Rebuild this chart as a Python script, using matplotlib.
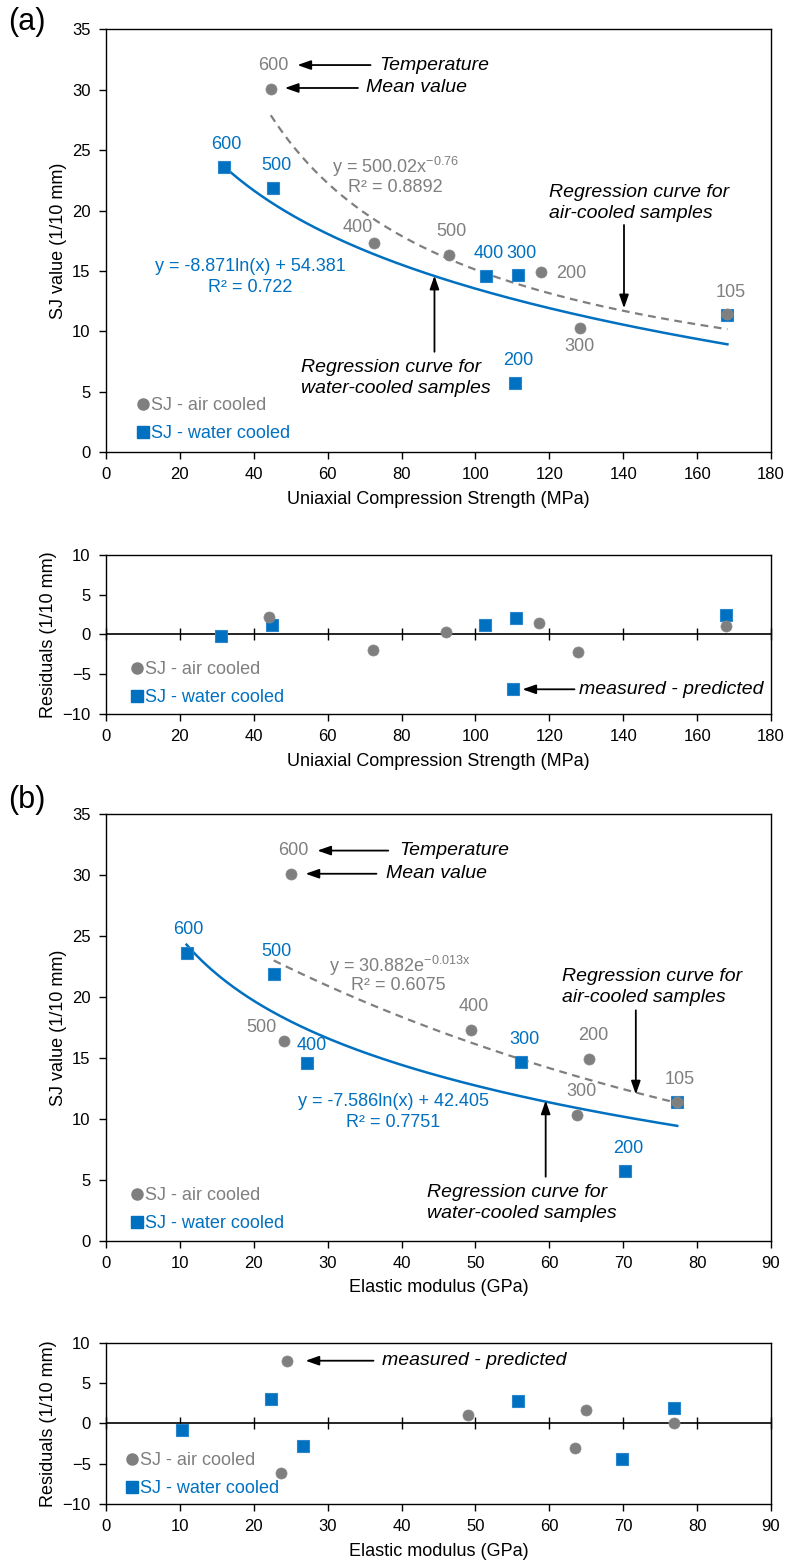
import numpy as np
import matplotlib
matplotlib.use('Agg')
import matplotlib.pyplot as plt
from matplotlib.lines import Line2D

plt.rcParams['font.family'] = ['Liberation Sans', 'DejaVu Sans']
plt.rcParams['mathtext.fontset'] = 'custom'
plt.rcParams['mathtext.rm'] = 'Liberation Sans'
plt.rcParams['mathtext.it'] = 'Liberation Sans:italic'
plt.rcParams['axes.unicode_minus'] = True

GRAY = '#7f7f7f'
BLUE = '#0070c0'

# temperatures (deg C) of the samples
temps_air = ['600', '400', '500', '200', '300', '105']
temps_water = ['600', '500', '400', '300', '200', '105']

# (a) SJ value vs UCS
ucs_air = [44.6, 72.6, 92.8, 117.7, 128.4, 168.2]
sj_air_a = [30.1, 17.3, 16.3, 14.9, 10.3, 11.4]
ucs_water = [31.8, 45.2, 102.8, 111.6, 110.6, 168.2]
sj_water_a = [23.6, 21.9, 14.55, 14.65, 5.7, 11.35]

# (a) residuals
res_ucs_air = [44.1, 72.2, 92.1, 117.2, 127.7, 167.7]
res_air_a = [2.2, -2.0, 0.3, 1.5, -2.2, 1.1]
res_ucs_water = [31.2, 44.8, 102.5, 111.1, 110.1, 167.7]
res_water_a = [-0.2, 1.2, 1.2, 2.1, -6.9, 2.4]

# (b) SJ value vs elastic modulus
e_air = [25.0, 49.4, 24.1, 65.4, 63.8, 77.3]
sj_air_b = [30.1, 17.3, 16.4, 14.9, 10.3, 11.35]
e_water = [10.9, 22.7, 27.2, 56.2, 70.2, 77.3]
sj_water_b = [23.6, 21.9, 14.6, 14.7, 5.75, 11.35]

# (b) residuals
res_e_air = [24.5, 49.0, 23.7, 65.0, 63.5, 76.9]
res_air_b = [7.8, 1.0, -6.2, 1.7, -3.1, 0.0]
res_e_water = [10.3, 22.3, 26.7, 55.8, 69.8, 76.9]
res_water_b = [-0.75, 3.1, -2.8, 2.85, -4.4, 1.9]

# regression coefficients (as printed on the chart)
pow_a, pow_b = 500.02, -0.76
lna_a, lna_b = -8.871, 54.381
exp_b_a, exp_b_b = 30.882, -0.013
lnb_a, lnb_b = -7.586, 42.405

fig = plt.figure(figsize=(7.9, 15.66), dpi=100)
ax_a = fig.add_axes([0.1342, 0.7114, 0.8418, 0.2698])
ax_ra = fig.add_axes([0.1342, 0.5441, 0.8418, 0.1015])
ax_b = fig.add_axes([0.1342, 0.2077, 0.8418, 0.2725])
ax_rb = fig.add_axes([0.1342, 0.0396, 0.8418, 0.1028])

TICK = 12      # tick labels
LAB = 13       # axis labels
TXT = 13       # point labels, equations, legend
ITAL = 14      # italic notes
arrow = dict(arrowstyle='-|>,head_length=0.8,head_width=0.28', color='black', lw=1.3,
             shrinkA=0, shrinkB=0)


def style(ax, xmax, xstep, ymin, ymax, ystep):
    ax.set_xlim(0, xmax)
    ax.set_ylim(ymin, ymax)
    ax.set_xticks(np.arange(0, xmax + 1, xstep))
    ax.set_yticks(np.arange(ymin, ymax + 1, ystep))
    ax.tick_params(labelsize=TICK, direction='out', length=5, width=1, pad=6,
                   top=False, right=False)
    for s in ax.spines.values():
        s.set_linewidth(1.0)


def labels(ax, xl, yl):
    ax.set_xlabel(xl, fontsize=LAB, labelpad=6)
    ax.set_ylabel(yl, fontsize=LAB, labelpad=4)


def points(ax, xa, ya, xw, yw):
    ax.plot(xw, yw, 's', color=BLUE, ms=8, mec='#2a86cc', mew=0.8, zorder=3)
    ax.plot(xa, ya, 'o', color=GRAY, ms=8, mec='#8c8c8c', mew=0.5, zorder=4)


def legend(ax, x, y):
    h = [Line2D([], [], ls='', marker='o', color=GRAY, ms=8),
         Line2D([], [], ls='', marker='s', color=BLUE, ms=8)]
    ax.legend(h, ['SJ - air cooled', 'SJ - water cooled'], loc='center left',
              bbox_to_anchor=(x, y), frameon=False, fontsize=TXT,
              handlelength=0.6, handletextpad=0.15, labelspacing=0.6,
              borderpad=0, borderaxespad=0, labelcolor=[GRAY, BLUE])


def residual_axis(ax):
    ax.axhline(0, color='black', lw=1.2, zorder=1)
    sec = ax.secondary_xaxis(0.5)
    sec.set_xticks(ax.get_xticks())
    sec.tick_params(direction='inout', length=9, width=1, labelbottom=False, labeltop=False)
    sec.spines['bottom'].set_visible(False)
    sec.spines['top'].set_visible(False)


def note(ax, x, y, s, **kw):
    ax.text(x, y, s, style='italic', fontsize=ITAL, va='center', **kw)


# ---------------- (a) ----------------
style(ax_a, 180, 20, 0, 35, 5)
xs = np.linspace(min(ucs_air), max(ucs_air), 200)
ax_a.plot(xs, pow_a * xs ** pow_b, ls=(0, (3.5, 2.5)), color=GRAY, lw=1.6, zorder=2)
xs = np.linspace(min(ucs_water), max(ucs_water), 200)
ax_a.plot(xs, lna_a * np.log(xs) + lna_b, color=BLUE, lw=1.8, zorder=2)
points(ax_a, ucs_air, sj_air_a, ucs_water, sj_water_a)

air_lbl_a = [(45.3, 32.05), (68.2, 18.6), (93.5, 18.3), (125.8, 14.8), (128.2, 8.75), (169.2, 13.2)]
for t, (x, y) in zip(temps_air, air_lbl_a):
    ax_a.text(x, y, t, color=GRAY, fontsize=TXT, ha='center', va='center')
water_lbl_a = [(32.5, 25.5), (46.0, 23.7), (103.7, 16.45), (112.5, 16.45), (111.6, 7.6), (None, None)]
for t, (x, y) in zip(temps_water, water_lbl_a):
    if x is not None:
        ax_a.text(x, y, t, color=BLUE, fontsize=TXT, ha='center', va='center')

ax_a.text(78.4, 23.6, 'y = 500.02x$^{\\mathregular{-0.76}}$', color=GRAY, fontsize=TXT,
          ha='center', va='center')
ax_a.text(78.4, 21.9, 'R² = 0.8892', color=GRAY, fontsize=TXT, ha='center', va='center')
ax_a.text(39.0, 15.35, 'y = -8.871ln(x) + 54.381', color=BLUE, fontsize=TXT, ha='center', va='center')
ax_a.text(39.0, 13.65, 'R² = 0.722', color=BLUE, fontsize=TXT, ha='center', va='center')

ax_a.annotate('', xy=(51.8, 32.05), xytext=(71.6, 32.05), arrowprops=arrow)
note(ax_a, 73.9, 32.05, 'Temperature')
ax_a.annotate('', xy=(48.4, 30.15), xytext=(68.2, 30.15), arrowprops=arrow)
note(ax_a, 70.5, 30.15, 'Mean value')
ax_a.annotate('', xy=(140.2, 11.9), xytext=(140.2, 18.8), arrowprops=arrow)
note(ax_a, 119.8, 20.6, 'Regression curve for\nair-cooled samples', linespacing=1.3)
ax_a.annotate('', xy=(88.9, 14.6), xytext=(88.9, 8.3), arrowprops=arrow)
note(ax_a, 52.9, 6.15, 'Regression curve for\nwater-cooled samples', linespacing=1.3)

legend(ax_a, 0.047, 0.076)
labels(ax_a, 'Uniaxial Compression Strength (MPa)', 'SJ value (1/10 mm)')
fig.text(0.010, 0.986, '(a)', fontsize=22, va='center')

# ---------------- residuals (a) ----------------
style(ax_ra, 180, 20, -10, 10, 5)
residual_axis(ax_ra)
points(ax_ra, res_ucs_air, res_air_a, res_ucs_water, res_water_a)
ax_ra.annotate('', xy=(112.7, -6.9), xytext=(126.8, -6.9), arrowprops=arrow)
note(ax_ra, 127.9, -6.9, 'measured - predicted')
legend(ax_ra, 0.039, 0.192)
labels(ax_ra, 'Uniaxial Compression Strength (MPa)', 'Residuals (1/10 mm)')

# ---------------- (b) ----------------
style(ax_b, 90, 10, 0, 35, 5)
xs = np.linspace(min(e_water[1], 24.1), max(e_air), 200)
ax_b.plot(xs, exp_b_a * np.exp(exp_b_b * xs), ls=(0, (3.5, 2.5)), color=GRAY, lw=1.6, zorder=2)
xs = np.linspace(min(e_water), max(e_water), 200)
ax_b.plot(xs, lnb_a * np.log(xs) + lnb_b, color=BLUE, lw=1.8, zorder=2)
points(ax_b, e_air, sj_air_b, e_water, sj_water_b)

air_lbl_b = [(25.3, 32.0), (49.8, 19.2), (21.1, 17.45), (65.9, 16.8), (64.3, 12.2), (77.7, 13.2)]
for t, (x, y) in zip(temps_air, air_lbl_b):
    ax_b.text(x, y, t, color=GRAY, fontsize=TXT, ha='center', va='center')
water_lbl_b = [(11.2, 25.5), (23.1, 23.7), (27.8, 16.0), (56.6, 16.5), (70.7, 7.6), (None, None)]
for t, (x, y) in zip(temps_water, water_lbl_b):
    if x is not None:
        ax_b.text(x, y, t, color=BLUE, fontsize=TXT, ha='center', va='center')

ax_b.text(39.8, 22.55, 'y = 30.882e$^{\\mathregular{-0.013x}}$', color=GRAY, fontsize=TXT,
          ha='center', va='center')
ax_b.text(39.6, 20.9, 'R² = 0.6075', color=GRAY, fontsize=TXT, ha='center', va='center')
ax_b.text(38.9, 11.4, 'y = -7.586ln(x) + 42.405', color=BLUE, fontsize=TXT, ha='center', va='center')
ax_b.text(38.8, 9.7, 'R² = 0.7751', color=BLUE, fontsize=TXT, ha='center', va='center')

ax_b.annotate('', xy=(28.6, 32.0), xytext=(38.2, 32.0), arrowprops=arrow)
note(ax_b, 39.7, 32.0, 'Temperature')
ax_b.annotate('', xy=(27.0, 30.1), xytext=(36.6, 30.1), arrowprops=arrow)
note(ax_b, 37.9, 30.1, 'Mean value')
ax_b.annotate('', xy=(71.7, 12.0), xytext=(71.7, 18.9), arrowprops=arrow)
note(ax_b, 61.7, 20.8, 'Regression curve for\nair-cooled samples', linespacing=1.3)
ax_b.annotate('', xy=(59.5, 11.5), xytext=(59.5, 5.25), arrowprops=arrow)
note(ax_b, 43.4, 3.1, 'Regression curve for\nwater-cooled samples', linespacing=1.3)

legend(ax_b, 0.038, 0.073)
labels(ax_b, 'Elastic modulus (GPa)', 'SJ value (1/10 mm)')
fig.text(0.010, 0.489, '(b)', fontsize=22, va='center')

# ---------------- residuals (b) ----------------
style(ax_rb, 90, 10, -10, 10, 5)
residual_axis(ax_rb)
points(ax_rb, res_e_air, res_air_b, res_e_water, res_water_b)
ax_rb.annotate('', xy=(27.0, 7.8), xytext=(36.2, 7.8), arrowprops=arrow)
note(ax_rb, 37.4, 7.8, 'measured - predicted')
legend(ax_rb, 0.031, 0.181)
labels(ax_rb, 'Elastic modulus (GPa)', 'Residuals (1/10 mm)')

fig.savefig('out.png', dpi=100)
